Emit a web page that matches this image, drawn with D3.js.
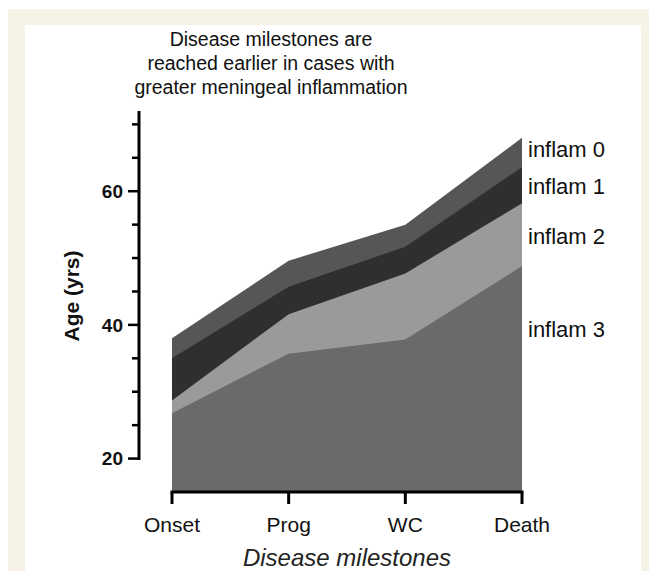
<!DOCTYPE html>
<html>
<head>
<meta charset="utf-8">
<script src="https://cdn.jsdelivr.net/npm/d3@7"></script>
<style>
  html, body { margin: 0; padding: 0; background: #ffffff; }
  svg { display: block; font-family: "Liberation Sans", Arial, Helvetica, sans-serif; }
</style>
</head>
<body>
<svg id="chart" width="649" height="571"></svg>
<script>
// ---- data ----
const categories = ["Onset", "Prog", "WC", "Death"];
const seriesNames = ["inflam 0", "inflam 1", "inflam 2", "inflam 3"];
const inflam0 = [38.0, 49.6, 55.0, 68.0];
const inflam1 = [35.0, 45.7, 51.7, 63.6];
const inflam2 = [28.7, 41.6, 47.7, 58.2];
const inflam3 = [26.8, 35.7, 37.8, 48.8];
const labelValues = [66.3, 60.8, 53.2, 39.4];
const yTicks = [20, 25, 30, 35, 40, 45, 50, 55, 60, 65, 70];
const yTickLabels = [20, 40, 60];
const titleLines = ["Disease milestones are", "reached earlier in cases with", "greater meningeal inflammation"];

const series = [inflam0, inflam1, inflam2, inflam3];
const colors = ["#565656", "#2f2f2f", "#9a9a9a", "#6a6a6a"];

const svg = d3.select("#chart");

// page frame
svg.append("rect").attr("x", 8).attr("y", 9).attr("width", 641).attr("height", 562).attr("fill", "#f6f3e6");
svg.append("rect").attr("x", 25).attr("y", 25).attr("width", 616).attr("height", 546).attr("fill", "#ffffff");

const x = d3.scalePoint().domain(categories).range([172, 522]);
const y = d3.scaleLinear().domain([15, 72]).range([492, 111]);

// areas
const area = d3.area()
  .x((d, i) => x(categories[i]))
  .y0(y(15))
  .y1(d => y(d));

svg.append("g").selectAll("path")
  .data(series)
  .join("path")
  .attr("d", d => area(d))
  .attr("fill", (d, i) => colors[i]);

// y axis
const yAxis = svg.append("g").attr("transform", "translate(139,0)");
yAxis.append("line")
  .attr("x1", 0).attr("x2", 0)
  .attr("y1", y(20) + 1.5).attr("y2", y(72))
  .attr("stroke", "#000").attr("stroke-width", 3);
yAxis.selectAll("line.tick")
  .data(yTicks)
  .join("line")
  .attr("class", "tick")
  .attr("x1", d => yTickLabels.includes(d) ? -11 : -7)
  .attr("x2", 0)
  .attr("y1", d => y(d)).attr("y2", d => y(d))
  .attr("stroke", "#000").attr("stroke-width", 2.5);
yAxis.selectAll("text")
  .data(yTickLabels)
  .join("text")
  .attr("x", -16)
  .attr("y", d => y(d))
  .attr("dy", "0.35em")
  .attr("text-anchor", "end")
  .attr("font-size", 19)
  .attr("font-weight", "bold")
  .attr("fill", "#111")
  .text(d => d);

svg.append("text")
  .attr("transform", "translate(79,296) rotate(-90)")
  .attr("text-anchor", "middle")
  .attr("font-size", 21)
  .attr("font-weight", "bold")
  .attr("fill", "#111")
  .text("Age (yrs)");

// x axis
const xAxis = svg.append("g").attr("transform", "translate(0,492)");
xAxis.append("line")
  .attr("x1", x(categories[0]) - 1.5).attr("x2", x(categories[3]) + 1.5)
  .attr("y1", 0).attr("y2", 0)
  .attr("stroke", "#000").attr("stroke-width", 3);
xAxis.selectAll("line.tick")
  .data(categories)
  .join("line")
  .attr("class", "tick")
  .attr("x1", d => x(d)).attr("x2", d => x(d))
  .attr("y1", 0).attr("y2", 12)
  .attr("stroke", "#000").attr("stroke-width", 3);
xAxis.selectAll("text")
  .data(categories)
  .join("text")
  .attr("x", d => x(d))
  .attr("y", 40)
  .attr("text-anchor", "middle")
  .attr("font-size", 21)
  .attr("fill", "#111")
  .text(d => d);

svg.append("text")
  .attr("x", 347).attr("y", 566)
  .attr("text-anchor", "middle")
  .attr("font-size", 24)
  .attr("font-style", "italic")
  .attr("fill", "#222")
  .text("Disease milestones");

// series labels
svg.append("g").selectAll("text")
  .data(seriesNames)
  .join("text")
  .attr("x", 528)
  .attr("y", (d, i) => y(labelValues[i]))
  .attr("dy", "0.35em")
  .attr("font-size", 22)
  .attr("fill", "#111")
  .text(d => d);

// title
svg.append("g").selectAll("text")
  .data(titleLines)
  .join("text")
  .attr("x", 271)
  .attr("y", (d, i) => 46 + i * 24)
  .attr("text-anchor", "middle")
  .attr("font-size", 19.5)
  .attr("fill", "#111")
  .text(d => d);
</script>
</body>
</html>
